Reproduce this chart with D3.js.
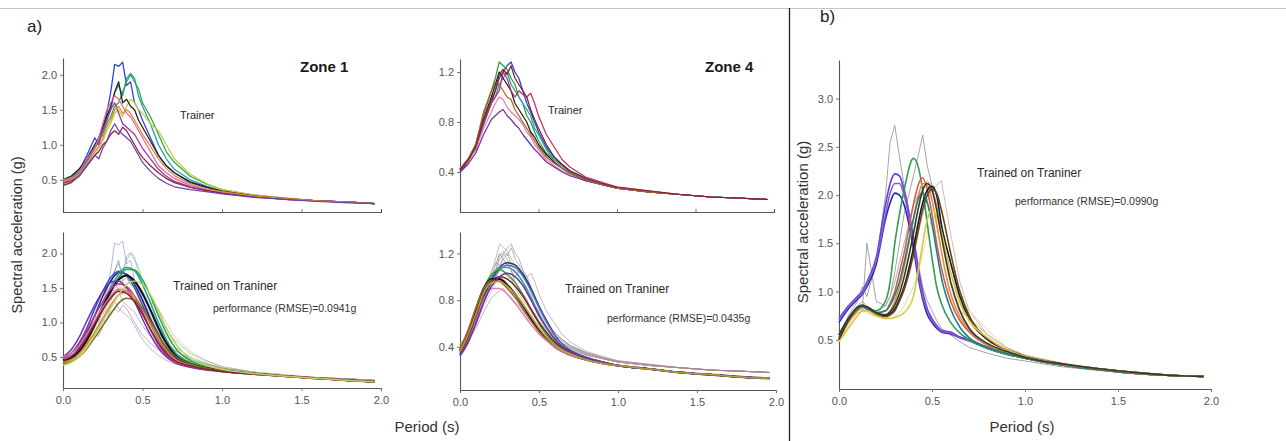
<!DOCTYPE html>
<html>
<head>
<meta charset="utf-8">
<script src="https://cdn.jsdelivr.net/npm/d3@7"></script>
<style>
  body { margin: 0; background: #fff; }
  svg { display: block; font-family: "Liberation Sans", Arial, sans-serif; }
</style>
</head>
<body>
<svg id="fig" width="1286" height="441"></svg>
<script>
// ---------- period grids (s) ----------
const periodsRecord = [0, 0.05, 0.1, 0.15, 0.2, 0.225, 0.25, 0.275, 0.3, 0.325, 0.35, 0.375, 0.4, 0.425, 0.45, 0.475, 0.5, 0.55, 0.6, 0.65, 0.7, 0.8, 0.9, 1.0, 1.2, 1.4, 1.6, 1.8, 1.96];
const periodsFit = [0, 0.05, 0.1, 0.15, 0.2, 0.25, 0.3, 0.35, 0.4, 0.45, 0.5, 0.55, 0.6, 0.65, 0.7, 0.8, 0.9, 1.0, 1.2, 1.4, 1.6, 1.8, 1.96];
const periodsB = [0, 0.05, 0.1, 0.125, 0.15, 0.2, 0.25, 0.275, 0.3, 0.325, 0.35, 0.4, 0.425, 0.45, 0.475, 0.5, 0.525, 0.55, 0.6, 0.65, 0.7, 0.8, 0.9, 1.0, 1.2, 1.4, 1.6, 1.8, 1.96];

// ---------- Zone 1 trainer records, Sa (g) on periodsRecord ----------
const zone1Records = [
  [0.48,0.52,0.62,0.85,1.1,1.0,1.25,1.45,1.75,2.15,2.12,2.18,1.85,1.9,1.6,1.5,1.35,1.1,0.85,0.7,0.6,0.46,0.39,0.33,0.27,0.23,0.2,0.18,0.16],
  [0.5,0.55,0.62,0.8,1.0,1.1,1.2,1.35,1.5,1.75,1.85,1.7,1.95,2.02,1.95,1.7,1.55,1.3,1.0,0.8,0.65,0.5,0.41,0.34,0.28,0.23,0.2,0.18,0.16],
  [0.45,0.5,0.58,0.75,0.95,1.05,1.15,1.3,1.4,1.55,1.6,1.75,1.9,2.0,1.9,1.8,1.6,1.4,1.15,0.9,0.75,0.55,0.44,0.36,0.28,0.24,0.2,0.18,0.16],
  [0.42,0.45,0.55,0.7,0.85,0.95,1.05,1.2,1.3,1.45,1.5,1.4,1.55,1.65,1.6,1.5,1.45,1.3,1.2,1.0,0.8,0.58,0.45,0.36,0.28,0.24,0.2,0.18,0.16],
  [0.5,0.55,0.65,0.8,1.0,1.1,1.25,1.4,1.55,1.75,1.9,1.6,1.65,1.55,1.5,1.35,1.25,1.05,0.85,0.7,0.6,0.47,0.4,0.34,0.27,0.23,0.2,0.18,0.16],
  [0.45,0.5,0.6,0.78,0.95,1.05,1.2,1.35,1.5,1.6,1.45,1.3,1.25,1.2,1.15,1.05,0.95,0.8,0.65,0.55,0.48,0.4,0.35,0.31,0.26,0.22,0.2,0.18,0.16],
  [0.5,0.52,0.6,0.8,0.95,1.1,1.3,1.5,1.6,1.7,1.65,1.55,1.45,1.4,1.3,1.2,1.1,0.9,0.7,0.6,0.52,0.42,0.36,0.32,0.26,0.22,0.2,0.18,0.16],
  [0.42,0.46,0.55,0.7,0.85,0.9,1.0,1.05,1.15,1.2,1.15,1.25,1.2,1.1,1.0,0.9,0.82,0.7,0.6,0.52,0.46,0.39,0.35,0.31,0.26,0.22,0.2,0.18,0.16],
  [0.48,0.5,0.58,0.72,0.9,0.98,1.1,1.25,1.35,1.5,1.55,1.45,1.5,1.45,1.35,1.25,1.15,0.98,0.8,0.66,0.56,0.44,0.37,0.33,0.27,0.23,0.2,0.18,0.16],
  [0.45,0.48,0.55,0.7,0.85,0.8,0.95,1.05,1.2,1.3,1.2,1.15,1.1,1.05,0.95,0.85,0.75,0.62,0.52,0.45,0.4,0.36,0.33,0.3,0.25,0.22,0.19,0.17,0.16]
];
const zone1RecordColors = ["#2a3fd8", "#1b9fa8", "#2fa83a", "#c4cc3a", "#202020", "#a030a8", "#e068a0", "#8a2044", "#e0882c", "#6a40b8"];

// ---------- Zone 4 trainer records ----------
const zone4Records = [
  [0.42,0.5,0.62,0.85,1.05,1.15,1.28,1.25,1.22,1.15,1.1,1.0,0.95,0.85,0.8,0.72,0.65,0.55,0.5,0.45,0.4,0.34,0.3,0.27,0.24,0.22,0.2,0.19,0.18],
  [0.4,0.48,0.58,0.78,0.95,1.05,1.15,1.2,1.25,1.28,1.2,1.15,1.05,0.95,0.88,0.8,0.72,0.6,0.52,0.46,0.41,0.35,0.31,0.27,0.24,0.22,0.2,0.19,0.18],
  [0.42,0.5,0.6,0.8,0.95,1.0,1.1,1.15,1.2,1.1,1.05,1.0,0.95,0.9,0.85,0.75,0.7,0.58,0.5,0.45,0.4,0.34,0.3,0.27,0.24,0.22,0.2,0.19,0.18],
  [0.42,0.5,0.6,0.82,1.0,1.1,1.2,1.15,1.1,1.05,0.95,0.9,0.85,0.8,0.72,0.68,0.62,0.54,0.48,0.43,0.39,0.33,0.3,0.27,0.24,0.22,0.2,0.19,0.18],
  [0.42,0.48,0.6,0.8,0.95,1.0,1.05,1.2,1.15,1.05,1.0,1.05,1.02,1.0,1.03,0.95,0.85,0.7,0.6,0.5,0.44,0.36,0.32,0.28,0.25,0.22,0.2,0.19,0.18],
  [0.43,0.48,0.58,0.75,0.88,0.95,1.0,0.98,0.92,0.88,0.85,0.82,0.78,0.72,0.68,0.62,0.58,0.5,0.45,0.41,0.38,0.33,0.3,0.27,0.24,0.22,0.2,0.19,0.18],
  [0.4,0.46,0.55,0.7,0.82,0.85,0.88,0.9,0.85,0.82,0.78,0.75,0.7,0.66,0.62,0.58,0.55,0.48,0.44,0.4,0.37,0.33,0.3,0.27,0.24,0.22,0.2,0.19,0.18],
  [0.42,0.5,0.62,0.88,1.05,1.12,1.1,1.05,1.0,0.98,0.9,0.85,0.8,0.75,0.7,0.65,0.6,0.52,0.47,0.43,0.39,0.34,0.3,0.27,0.24,0.22,0.2,0.19,0.18],
  [0.42,0.49,0.6,0.82,0.98,1.05,1.18,1.22,1.18,1.25,1.15,1.1,1.05,1.0,0.9,0.82,0.75,0.62,0.52,0.46,0.41,0.35,0.31,0.28,0.25,0.22,0.2,0.19,0.18]
];
const zone4RecordColors = ["#2fa03a", "#2a40d0", "#1ba0a8", "#202020", "#c03060", "#e080b0", "#7030a0", "#b06020", "#802030"];

// ---------- Zone 1 predictions (trained on trainer), on periodsFit ----------
const zone1Fits = [
  [0.45,0.5,0.62,0.85,1.1,1.38,1.6,1.72,1.7,1.55,1.32,1.05,0.82,0.62,0.5,0.38,0.33,0.3,0.26,0.22,0.19,0.16,0.14],
  [0.48,0.55,0.7,0.92,1.2,1.45,1.65,1.74,1.68,1.5,1.25,0.98,0.75,0.58,0.48,0.37,0.33,0.3,0.26,0.22,0.19,0.16,0.14],
  [0.45,0.5,0.6,0.78,1.0,1.25,1.5,1.7,1.8,1.75,1.55,1.28,1.0,0.75,0.58,0.42,0.35,0.31,0.26,0.22,0.19,0.16,0.14],
  [0.42,0.48,0.57,0.73,0.95,1.2,1.45,1.65,1.77,1.76,1.62,1.38,1.1,0.85,0.65,0.45,0.36,0.31,0.26,0.22,0.19,0.16,0.14],
  [0.45,0.48,0.58,0.75,0.97,1.22,1.45,1.62,1.68,1.6,1.42,1.18,0.92,0.7,0.54,0.4,0.34,0.3,0.26,0.22,0.19,0.16,0.14],
  [0.5,0.6,0.78,1.02,1.25,1.45,1.58,1.6,1.5,1.3,1.05,0.82,0.63,0.5,0.42,0.35,0.31,0.29,0.25,0.22,0.19,0.16,0.14],
  [0.48,0.55,0.68,0.88,1.1,1.3,1.48,1.56,1.52,1.38,1.15,0.9,0.68,0.52,0.43,0.36,0.32,0.29,0.25,0.22,0.19,0.16,0.14],
  [0.5,0.55,0.65,0.83,1.02,1.22,1.38,1.48,1.45,1.32,1.12,0.9,0.7,0.55,0.45,0.37,0.32,0.29,0.25,0.22,0.19,0.16,0.14],
  [0.42,0.46,0.54,0.68,0.86,1.05,1.25,1.4,1.45,1.38,1.2,0.98,0.76,0.6,0.48,0.38,0.33,0.3,0.26,0.22,0.19,0.16,0.14],
  [0.4,0.43,0.5,0.62,0.78,0.95,1.12,1.28,1.35,1.32,1.2,1.02,0.82,0.64,0.52,0.4,0.34,0.3,0.26,0.22,0.19,0.16,0.14],
  [0.45,0.5,0.6,0.78,0.98,1.18,1.35,1.45,1.42,1.3,1.12,0.9,0.7,0.55,0.45,0.37,0.32,0.29,0.25,0.22,0.19,0.16,0.14],
  [0.38,0.42,0.5,0.64,0.82,1.02,1.22,1.4,1.55,1.6,1.55,1.4,1.18,0.92,0.72,0.48,0.38,0.32,0.26,0.22,0.19,0.16,0.14]
];
const zone1FitColors = ["#1a2080", "#3050d0", "#20a0a0", "#30a040", "#111111", "#7030b0", "#c03090", "#e070a0", "#e08030", "#707020", "#802030", "#c0d060"];

// ---------- Zone 4 predictions ----------
const zone4Fits = [
  [0.33,0.45,0.62,0.82,0.98,1.08,1.12,1.1,1.02,0.9,0.75,0.62,0.5,0.42,0.37,0.31,0.27,0.24,0.21,0.18,0.16,0.14,0.13],
  [0.32,0.43,0.6,0.8,0.96,1.06,1.1,1.08,1.0,0.88,0.74,0.61,0.5,0.42,0.37,0.31,0.27,0.24,0.21,0.18,0.16,0.14,0.13],
  [0.35,0.47,0.65,0.85,1.0,1.08,1.08,1.04,0.95,0.82,0.68,0.56,0.46,0.4,0.35,0.3,0.27,0.24,0.21,0.18,0.16,0.14,0.13],
  [0.36,0.5,0.7,0.9,1.02,1.06,1.02,0.95,0.84,0.72,0.6,0.5,0.43,0.38,0.34,0.3,0.27,0.24,0.21,0.18,0.16,0.14,0.13],
  [0.37,0.52,0.72,0.9,0.98,0.98,0.93,0.85,0.75,0.64,0.54,0.46,0.4,0.36,0.33,0.29,0.26,0.24,0.21,0.18,0.16,0.14,0.13],
  [0.38,0.54,0.73,0.9,0.97,0.96,0.9,0.82,0.72,0.62,0.53,0.46,0.4,0.36,0.33,0.29,0.26,0.24,0.21,0.18,0.16,0.14,0.13],
  [0.34,0.45,0.62,0.8,0.9,0.9,0.85,0.77,0.68,0.59,0.51,0.45,0.4,0.36,0.33,0.29,0.26,0.24,0.21,0.18,0.16,0.14,0.13],
  [0.35,0.48,0.66,0.85,0.96,1.0,0.98,0.92,0.83,0.72,0.61,0.52,0.44,0.39,0.35,0.3,0.27,0.24,0.21,0.18,0.16,0.14,0.13],
  [0.33,0.44,0.6,0.78,0.92,1.0,1.03,1.0,0.92,0.8,0.67,0.56,0.47,0.4,0.36,0.3,0.27,0.24,0.21,0.18,0.16,0.14,0.13],
  [0.36,0.5,0.68,0.86,0.95,0.96,0.92,0.85,0.76,0.66,0.56,0.48,0.42,0.37,0.34,0.29,0.26,0.24,0.21,0.18,0.16,0.14,0.13]
];
const zone4FitColors = ["#203080", "#5070a0", "#30a0b0", "#40a040", "#111111", "#a06030", "#e080b0", "#802030", "#7030a0", "#b0a030"];

// ---------- panel b: records and predictions, on periodsB ----------
const bRecords = [
  [0.5,0.75,0.9,1.05,0.95,1.3,2.0,2.55,2.72,2.4,2.1,1.6,1.3,1.05,0.9,0.8,0.7,0.62,0.55,0.48,0.42,0.36,0.31,0.28,0.22,0.18,0.15,0.13,0.12],
  [0.55,0.7,0.85,0.8,1.5,0.9,0.85,0.95,1.2,1.5,1.8,2.2,2.4,2.62,2.3,2.1,1.9,1.6,1.2,0.9,0.7,0.5,0.4,0.33,0.25,0.2,0.16,0.13,0.12],
  [0.5,0.7,0.85,0.9,0.85,0.8,0.85,0.95,1.1,1.3,1.5,1.9,2.0,2.05,2.15,2.1,2.0,1.7,1.1,0.8,0.72,0.55,0.42,0.34,0.25,0.2,0.16,0.13,0.12],
  [0.5,0.68,0.8,0.82,0.8,0.75,0.72,0.74,0.8,0.9,1.05,1.4,1.6,1.8,1.95,2.05,2.1,2.15,1.6,1.1,0.8,0.55,0.42,0.34,0.26,0.2,0.16,0.13,0.12],
  [0.5,0.65,0.78,0.8,0.78,0.74,0.72,0.72,0.74,0.78,0.85,1.05,1.2,1.4,1.6,1.75,1.8,1.7,1.3,1.0,0.8,0.6,0.42,0.32,0.24,0.18,0.15,0.13,0.12]
];
const bRecordColors = ["#9a9a9a", "#9a9a9a", "#a8a8a8", "#e8a8a8", "#e0d890"];

const bFits = [
  [0.72,0.85,0.95,1.0,1.1,1.35,1.9,2.12,2.22,2.2,2.05,1.55,1.25,1.0,0.82,0.72,0.65,0.6,0.58,0.53,0.5,0.42,0.36,0.31,0.24,0.19,0.15,0.13,0.12],
  [0.68,0.82,0.92,0.97,1.05,1.28,1.75,1.92,2.02,2.0,1.9,1.45,1.15,0.92,0.76,0.68,0.62,0.58,0.56,0.52,0.49,0.41,0.35,0.31,0.24,0.19,0.15,0.13,0.12],
  [0.7,0.84,0.94,0.98,1.08,1.32,1.8,2.02,2.12,2.12,2.0,1.5,1.2,0.95,0.8,0.7,0.64,0.59,0.57,0.52,0.49,0.41,0.35,0.31,0.24,0.19,0.15,0.13,0.12],
  [0.55,0.72,0.82,0.84,0.82,0.8,0.9,1.1,1.5,1.8,2.05,2.38,2.3,2.05,1.7,1.35,1.05,0.88,0.68,0.57,0.5,0.41,0.35,0.31,0.24,0.19,0.15,0.13,0.12],
  [0.52,0.7,0.82,0.85,0.83,0.78,0.8,0.88,1.0,1.2,1.4,1.9,2.1,2.18,2.05,1.8,1.5,1.25,0.9,0.7,0.58,0.44,0.37,0.31,0.24,0.19,0.15,0.13,0.12],
  [0.5,0.68,0.8,0.84,0.82,0.76,0.76,0.8,0.9,1.05,1.25,1.75,1.98,2.12,2.1,1.95,1.7,1.42,0.98,0.74,0.6,0.45,0.37,0.32,0.25,0.19,0.15,0.13,0.12],
  [0.5,0.7,0.82,0.85,0.84,0.78,0.75,0.77,0.82,0.92,1.05,1.45,1.7,1.92,2.05,2.09,2.0,1.7,1.3,0.95,0.72,0.5,0.4,0.33,0.25,0.2,0.16,0.13,0.12],
  [0.52,0.7,0.82,0.85,0.83,0.77,0.74,0.76,0.8,0.9,1.02,1.38,1.62,1.85,2.0,2.06,2.02,1.85,1.4,1.0,0.75,0.51,0.4,0.33,0.25,0.2,0.16,0.13,0.12],
  [0.55,0.72,0.82,0.84,0.82,0.78,0.8,0.86,0.96,1.1,1.3,1.75,1.95,2.02,1.92,1.7,1.42,1.15,0.82,0.63,0.52,0.42,0.36,0.31,0.24,0.19,0.15,0.13,0.12],
  [0.48,0.62,0.75,0.8,0.8,0.75,0.72,0.72,0.73,0.75,0.78,0.95,1.2,1.5,1.75,1.85,1.78,1.62,1.2,0.88,0.7,0.52,0.4,0.33,0.25,0.2,0.16,0.13,0.12],
  [0.55,0.72,0.84,0.86,0.84,0.78,0.76,0.79,0.86,0.98,1.15,1.6,1.85,2.05,2.12,2.05,1.85,1.58,1.1,0.8,0.62,0.46,0.38,0.32,0.25,0.2,0.16,0.13,0.12]
];
const bFitColors = ["#5a3ce0", "#1e2ca8", "#9058d0", "#30a050", "#d85a50", "#e09040", "#1a1a1a", "#5e4820", "#208080", "#d8c840", "#403428"];

// ---------- tick values ----------
const periodTicks = [0, 0.5, 1.0, 1.5, 2.0];
const zone1Ticks = [0.5, 1.0, 1.5, 2.0];
const zone4Ticks = [0.4, 0.8, 1.2];
const bTicks = [0.5, 1.0, 1.5, 2.0, 2.5, 3.0];

// ---------- drawing ----------
const svg = d3.select("#fig");
const fmt = d3.format(".1f");

// frame: thin rule along the top and a divider between the two figure parts
svg.append("line").attr("x1", 0).attr("x2", 1286).attr("y1", 8.5).attr("y2", 8.5)
  .attr("stroke", "#c4c4c4").attr("stroke-width", 1);
svg.append("line").attr("x1", 789.5).attr("x2", 789.5).attr("y1", 8).attr("y2", 441)
  .attr("stroke", "#222").attr("stroke-width", 1.3);

function makePanel(box, yDomain, yTicks, showXLabels) {
  const x = d3.scaleLinear().domain([0, 2]).range([box.left, box.right]);
  const y = d3.scaleLinear().domain(yDomain).range([box.bottom, box.top]);
  const g = svg.append("g");

  const xAxis = d3.axisBottom(x).tickSizeOuter(0);
  if (showXLabels) {
    xAxis.tickValues(periodTicks).tickSize(3).tickPadding(5).tickFormat(fmt);
  } else {
    xAxis.tickValues([0.5, 1.0, 1.5]).tickSize(-3).tickFormat("");
  }
  const gx = g.append("g").attr("transform", `translate(0,${box.bottom})`).call(xAxis);
  const gy = g.append("g").attr("transform", `translate(${box.left},0)`)
    .call(d3.axisLeft(y).tickValues(yTicks).tickSize(3).tickPadding(3).tickSizeOuter(0).tickFormat(fmt));
  [gx, gy].forEach(a => {
    a.select(".domain").attr("stroke", "#555").attr("stroke-width", 1.1);
    a.selectAll(".tick line").attr("stroke", "#777");
    a.selectAll(".tick text").attr("fill", "#555").attr("font-size", 11)
      .attr("font-family", "'Liberation Sans', Arial, sans-serif");
  });
  return { g, x, y };
}

function drawSeries(p, periods, seriesList, colors, opts) {
  const line = d3.line()
    .x((d, i) => p.x(periods[i]))
    .y(d => p.y(d))
    .curve(opts.smooth ? d3.curveMonotoneX : d3.curveLinear);
  p.g.append("g").selectAll("path").data(seriesList).join("path")
    .attr("d", d => line(d))
    .attr("fill", "none")
    .attr("stroke", (d, i) => opts.fade ? d3.interpolateRgb(colors[i], "#b4b4b4")(opts.fade) : colors[i])
    .attr("stroke-opacity", opts.opacity || 1)
    .attr("stroke-width", (d, i) => (opts.boldBlack && colors[i] === "#111111") ? opts.width + 0.6 : opts.width)
    .attr("stroke-linejoin", "round");
}

function addText(txt, x, y, size, opts = {}) {
  return svg.append("text").attr("x", x).attr("y", y).text(txt)
    .attr("font-size", size)
    .attr("fill", opts.fill || "#2a2a2a")
    .attr("font-weight", opts.bold ? "bold" : null)
    .attr("text-anchor", opts.anchor || "start");
}

// a) Zone 1, trainer records
const pA1 = makePanel({ left: 63, right: 381, top: 58, bottom: 212 }, [0.04, 2.24], zone1Ticks, false);
drawSeries(pA1, periodsRecord, zone1Records, zone1RecordColors, { width: 1.25 });

// a) Zone 4, trainer records
const pA2 = makePanel({ left: 460, right: 774, top: 59, bottom: 212 }, [0.08, 1.304], zone4Ticks, false);
drawSeries(pA2, periodsRecord, zone4Records, zone4RecordColors, { width: 1.25 });

// a) Zone 1, predictions over faint records
const pA3 = makePanel({ left: 63, right: 381, top: 232, bottom: 388 }, [0.05, 2.31], zone1Ticks, true);
drawSeries(pA3, periodsRecord, zone1Records, zone1RecordColors, { width: 0.9, fade: 0.65, opacity: 0.7 });
drawSeries(pA3, periodsFit, zone1Fits, zone1FitColors, { width: 1.5, smooth: true, boldBlack: true });

// a) Zone 4, predictions over faint records
const pA4 = makePanel({ left: 460, right: 776, top: 232, bottom: 390 }, [0.03, 1.384], zone4Ticks, true);
drawSeries(pA4, periodsRecord, zone4Records, zone4RecordColors, { width: 0.9, fade: 0.65, opacity: 0.7 });
drawSeries(pA4, periodsFit, zone4Fits, zone4FitColors, { width: 1.5, smooth: true, boldBlack: true });

// b) predictions over faint records
const pB = makePanel({ left: 839, right: 1211, top: 60, bottom: 389 }, [-0.01, 3.40], bTicks, true);
drawSeries(pB, periodsB, bRecords, bRecordColors, { width: 1.0, opacity: 0.9 });
drawSeries(pB, periodsB, bFits, bFitColors, { width: 1.6, smooth: true });

// labels
addText("a)", 27, 32, 17, { fill: "#222" });
addText("b)", 820, 22, 17, { fill: "#222" });
addText("Zone 1", 300, 72, 15, { bold: true, fill: "#1a1a1a" });
addText("Zone 4", 705, 72, 15, { bold: true, fill: "#1a1a1a" });
addText("Trainer", 180, 119, 11);
addText("Trainer", 548, 114, 11);
addText("Trained on Traniner", 173, 290, 12);
addText("performance (RMSE)=0.0941g", 213, 312, 10.5, { fill: "#333" });
addText("Trained on Traniner", 565, 293, 12);
addText("performance (RMSE)=0.0435g", 607, 322, 10.5, { fill: "#333" });
addText("Trained on Traniner", 977, 177, 12);
addText("performance (RMSE)=0.0990g", 1015, 205, 10.5, { fill: "#333" });

addText("Period (s)", 427, 432, 15, { anchor: "middle", fill: "#333" });
addText("Period (s)", 1022, 432, 15, { anchor: "middle", fill: "#333" });

svg.append("text").attr("transform", "translate(22,235) rotate(-90)")
  .attr("text-anchor", "middle").attr("font-size", 14.5).attr("fill", "#333")
  .text("Spectral acceleration (g)");
svg.append("text").attr("transform", "translate(808,222) rotate(-90)")
  .attr("text-anchor", "middle").attr("font-size", 15).attr("fill", "#333")
  .text("Spectral acceleration (g)");
</script>
</body>
</html>
